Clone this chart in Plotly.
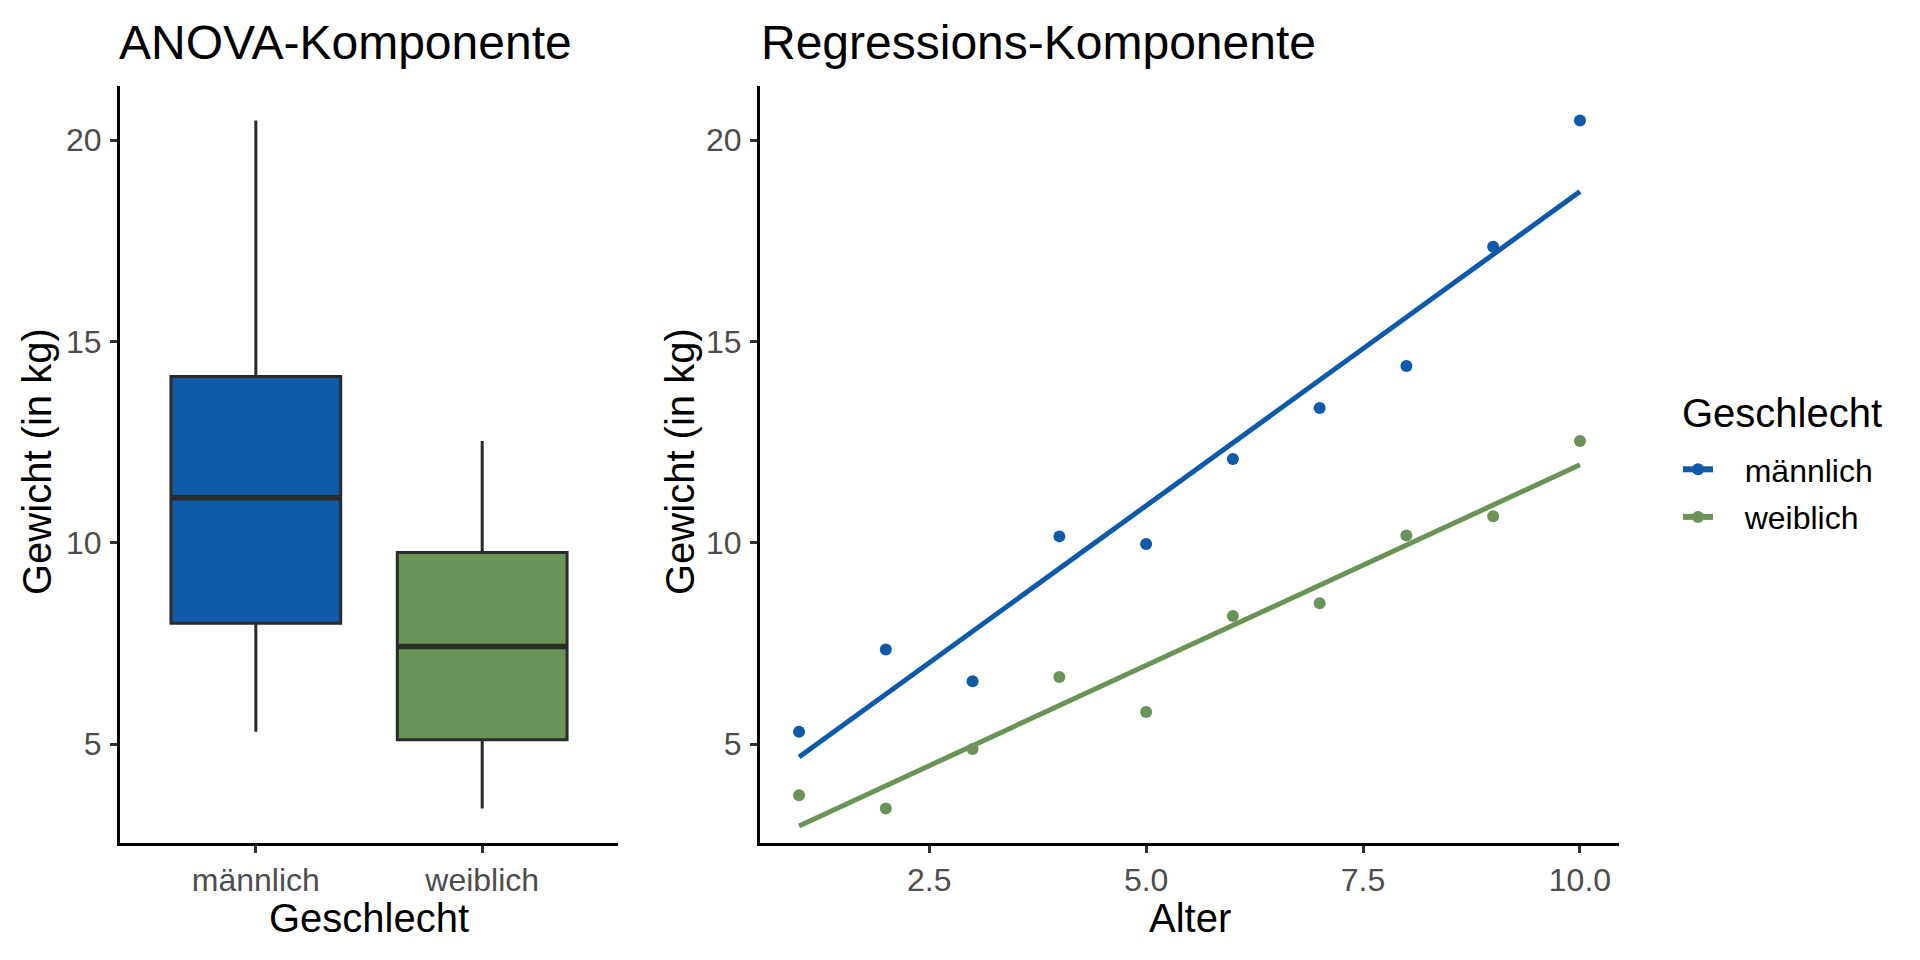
import numpy as np
import plotly.graph_objects as go

# ---------------- data ----------------
categories = ["männlich", "weiblich"]
alter = [1, 2, 3, 4, 5, 6, 7, 8, 9, 10]
gewicht_maennlich = [5.31, 7.35, 6.56, 10.16, 9.97, 12.08, 13.35, 14.39, 17.35, 20.49]
gewicht_weiblich = [3.73, 3.40, 4.88, 6.67, 5.80, 8.18, 8.50, 10.18, 10.66, 12.53]
y_ticks = [5, 10, 15, 20]
x_ticks = [2.5, 5.0, 7.5, 10.0]
x_tick_labels = ["2.5", "5.0", "7.5", "10.0"]

colors = ["#0E5AA8", "#6B9358"]
outline = "#2B2B2B"
FONT = "Liberation Sans, Arial, sans-serif"
OFF = 8                      # default page body margin
W, H = 1920 - OFF, 960 - OFF

series = [gewicht_maennlich, gewicht_weiblich]

# y range with ggplot-like 5% expansion
all_y = np.array(gewicht_maennlich + gewicht_weiblich)
pad = 0.05 * (all_y.max() - all_y.min())
y_range = [all_y.min() - pad, all_y.max() + pad]
xr = 0.05 * (max(alter) - min(alter))
x2_range = [min(alter) - xr, max(alter) + xr]

fig = go.Figure()

# ---------------- ANOVA boxplots ----------------
for i, (cat, vals, col) in enumerate(zip(categories, series, colors)):
    v = np.array(vals)
    q1, med, q3 = np.percentile(v, [25, 50, 75])
    iqr = q3 - q1
    lo = v[v >= q1 - 1.5 * iqr].min()
    hi = v[v <= q3 + 1.5 * iqr].max()
    fig.add_trace(go.Box(
        x=[i], q1=[q1], median=[med], q3=[q3], lowerfence=[lo], upperfence=[hi],
        width=0.75, fillcolor=col, line=dict(color=outline, width=3),
        whiskerwidth=0, boxpoints=False, showlegend=False, hoverinfo="skip",
        xaxis="x", yaxis="y"))
    fig.add_trace(go.Scatter(
        x=[i - 0.375, i + 0.375], y=[med, med], mode="lines",
        line=dict(color=outline, width=5.5), showlegend=False, hoverinfo="skip",
        xaxis="x", yaxis="y"))

# ---------------- Regression panel ----------------
xa = np.array(alter, dtype=float)
for cat, vals, col in zip(categories, series, colors):
    slope, icpt = np.polyfit(xa, np.array(vals), 1)
    xs = np.array([xa.min(), xa.max()])
    fig.add_trace(go.Scatter(
        x=xs, y=slope * xs + icpt, mode="lines", line=dict(color=col, width=5),
        showlegend=False, xaxis="x2", yaxis="y2"))
    fig.add_trace(go.Scatter(
        x=alter, y=vals, mode="markers", marker=dict(color=col, size=12),
        showlegend=False, xaxis="x2", yaxis="y2"))
    fig.add_trace(go.Scatter(
        x=[None], y=[None], mode="lines+markers",
        name="\u00a0\u00a0\u00a0" + cat, legendgroup=cat,
        line=dict(color=col, width=6), marker=dict(color=col, size=12),
        xaxis="x2", yaxis="y2"))

# ---------------- layout ----------------
def px(x):
    return (x - OFF) / W

def py(y):
    return 1 - (y - OFF) / H

axis_common = dict(
    showline=True, linecolor="black", linewidth=3, showgrid=False, zeroline=False,
    ticks="outside", ticklen=7, tickwidth=3, tickcolor="#333333",
    tickfont=dict(family=FONT, size=32, color="#4D4D4D"),
)

fig.update_layout(
    width=W, height=H, paper_bgcolor="white", plot_bgcolor="white",
    margin=dict(l=0, r=0, t=0, b=0),
    font=dict(family=FONT, color="black"),
    boxmode="overlay",
    xaxis=dict(domain=[px(120), px(618)], range=[-0.6, 1.6], tickvals=[0, 1],
               ticktext=categories, anchor="y", ticklabelstandoff=0, **axis_common),
    yaxis=dict(domain=[py(843), py(86)], range=y_range, tickvals=y_ticks,
               anchor="x", ticklabelstandoff=2, **axis_common),
    xaxis2=dict(domain=[px(760), px(1619)], range=x2_range, tickvals=x_ticks,
                ticktext=x_tick_labels, anchor="y2", ticklabelstandoff=0, **axis_common),
    yaxis2=dict(domain=[py(843), py(86)], range=y_range, tickvals=y_ticks,
                anchor="x2", ticklabelstandoff=2, **axis_common),
    legend=dict(
        font=dict(family=FONT, size=32, color="black"),
        x=px(1678), y=py(442), xanchor="left", yanchor="top",
        bgcolor="rgba(0,0,0,0)", itemwidth=30, tracegroupgap=3),
)

annotations = [
    dict(text="ANOVA-Komponente", x=px(117), y=py(43), xanchor="left", yanchor="middle",
         font=dict(size=48)),
    dict(text="Regressions-Komponente", x=px(759), y=py(43), xanchor="left", yanchor="middle",
         font=dict(size=48)),
    dict(text="Geschlecht", x=px(369), y=py(918), xanchor="center", yanchor="middle",
         font=dict(size=40)),
    dict(text="Alter", x=px(1190), y=py(918), xanchor="center", yanchor="middle",
         font=dict(size=40)),
    dict(text="Gewicht (in kg)", x=px(37), y=py(462), xanchor="center", yanchor="middle",
         textangle=-90, font=dict(size=40)),
    dict(text="Gewicht (in kg)", x=px(680), y=py(462), xanchor="center", yanchor="middle",
         textangle=-90, font=dict(size=40)),
    dict(text="Geschlecht", x=px(1680), y=py(413), xanchor="left", yanchor="middle",
         font=dict(size=40)),
]
for a in annotations:
    a.update(xref="paper", yref="paper", showarrow=False)
    a["font"].update(family=FONT, color="black")
fig.update_layout(annotations=annotations)

fig.write_html("out.html")
